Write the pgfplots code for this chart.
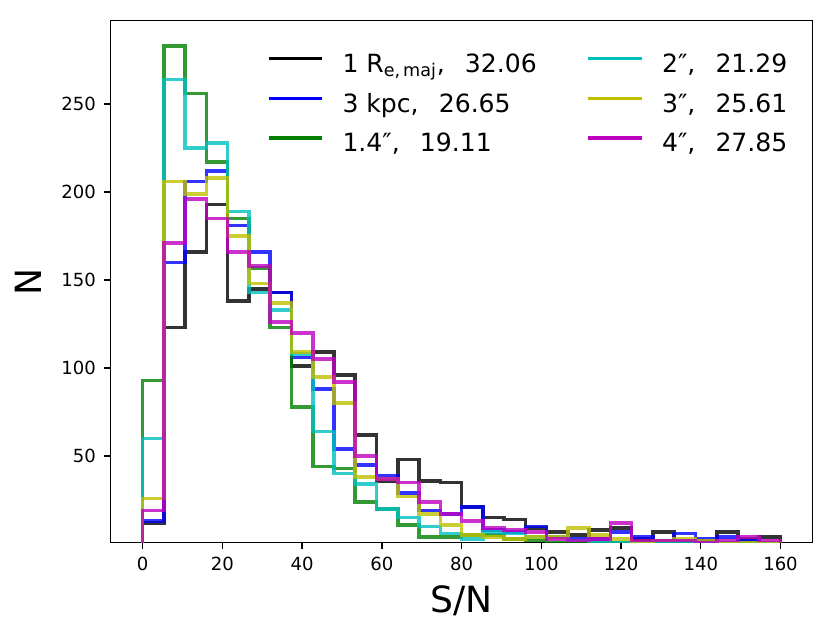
\documentclass[border=0pt]{standalone}
\usepackage{fontspec}
\setmainfont{DejaVu Sans}
\usepackage{pgfplots}
\usepackage{pgfplotstable}
\pgfplotsset{compat=1.18}

\definecolor{mblack}{rgb}{0,0,0}
\definecolor{mblue}{rgb}{0,0,1}
\definecolor{mgreen}{rgb}{0,0.5,0}
\definecolor{mcyan}{rgb}{0,0.75,0.75}
\definecolor{myellow}{rgb}{0.75,0.75,0}
\definecolor{mmagenta}{rgb}{0.75,0,0.75}

\pgfplotstableread{
x       k    b    g    c    y    m
0       0    0    0    0    0    0
0       12   13   93   60   26   19
5.333   123  160  283  264  206  171
10.667  166  206  256  225  199  196
16      193  212  217  228  208  185
21.333  138  181  185  189  175  166
26.667  145  166  157  143  148  158
32      143  143  123  133  137  126
37.333  101  106  78   108  109  120
42.667  109  88   44   64   95   105
48      96   54   43   40   80   92
53.333  62   45   24   34   38   50
58.667  36   39   20   20   37   37
64      48   29   11   15   27   35
69.333  36   19   4    10   17   24
74.667  35   17   4    6    11   17
80      21   21   5    3    5    13
85.333  15   8    5    7    4    9
90.667  14   7    3    6    3    8
96      9    10   2    4    4    7
101.333 7    4    1    4    4    3
106.667 5    3    1    2    9    2
112     8    3    1    1    5    3
117.333 9    7    1    1    3    12
122.667 3    4    0    1    1    2
128     7    2    1    1    2    2
133.333 2    6    0    1    3    2
138.667 2    3    0    0    2    1
144     7    4    0    1    1    2
149.333 3    2    0    0    1    4
154.667 4    1    0    0    1    2
160     4    1    0    0    1    2
160     0    0    0    0    0    0
}\hist

\begin{document}
\begin{tikzpicture}
\begin{axis}[
  at={(0,0)}, anchor=south west,
  scale only axis, width=388.4pt, height=288.7pt,
  xmin=-8, xmax=168, ymin=1, ymax=297.3,
  xtick={0,20,...,160}, ytick={50,100,...,250},
  tick align=outside, tick pos=left,
  major tick length=3.5pt,
  every tick/.style={black, line width=0.8pt},
  axis line style={line width=0.8pt},
  /pgf/number format/assume math mode=true,
  ticklabel style={font=\fontsize{10}{12}\selectfont},
  xticklabel style={anchor=north, inner sep=0pt, yshift=-4.7pt},
  yticklabel style={anchor=east, inner sep=0pt, xshift=-4.5pt},
  xlabel={S/N}, ylabel={N},
  label style={font=\fontsize{20}{24}\selectfont},
  xlabel style={at={([yshift=-39pt]axis description cs:0.5,0)}, anchor=base, inner sep=0pt},
  ylabel style={at={([xshift=-45.8pt]axis description cs:0,0.5)}, anchor=center, inner sep=0pt},
  legend columns=2, legend cell align=left,
  legend style={draw=none, fill=none, inner sep=0pt,
    at={(rel axis cs:0.2222,0.9363)}, anchor=north west,
    font=\fontsize{13.9}{16}\selectfont, row sep=12pt,
    nodes={inner sep=0pt, text height=10pt, text depth=0pt},
    /tikz/every odd column/.append style={column sep=10.5pt},
    /tikz/every even column/.append style={column sep=27.5pt}},
  legend image code/.code={\draw[#1, line width=1.7pt, opacity=1] (0pt,2.7pt) -- (29.6pt,2.7pt);},
]
\addplot[const plot, draw=mblack, line width=2pt, draw opacity=0.8, forget plot] table[x=x, y=k] {\hist};
\addplot[const plot, draw=mblue, line width=2pt, draw opacity=0.8, forget plot] table[x=x, y=b] {\hist};
\addplot[const plot, draw=mgreen, line width=2pt, draw opacity=0.8, forget plot] table[x=x, y=g] {\hist};
\addplot[const plot, draw=mcyan, line width=2pt, draw opacity=0.8, forget plot] table[x=x, y=c] {\hist};
\addplot[const plot, draw=myellow, line width=2pt, draw opacity=0.8, forget plot] table[x=x, y=y] {\hist};
\addplot[const plot, draw=mmagenta, line width=2pt, draw opacity=0.8, forget plot] table[x=x, y=m] {\hist};

\addlegendimage{mblack}
\addlegendentry{1 R\textsubscript{e,\,maj},\hspace{0.8em}32.06}
\addlegendimage{mcyan}
\addlegendentry{2″,\hspace{0.8em}21.29}
\addlegendimage{mblue}
\addlegendentry{3 kpc,\hspace{0.8em}26.65}
\addlegendimage{myellow}
\addlegendentry{3″,\hspace{0.8em}25.61}
\addlegendimage{mgreen}
\addlegendentry{1.4″,\hspace{0.8em}19.11}
\addlegendimage{mmagenta}
\addlegendentry{4″,\hspace{0.8em}27.85}
\end{axis}
\pgfresetboundingbox
\useasboundingbox (-61.3pt,-51.3pt) rectangle (398.7pt,300.2pt);
\end{tikzpicture}
\end{document}
